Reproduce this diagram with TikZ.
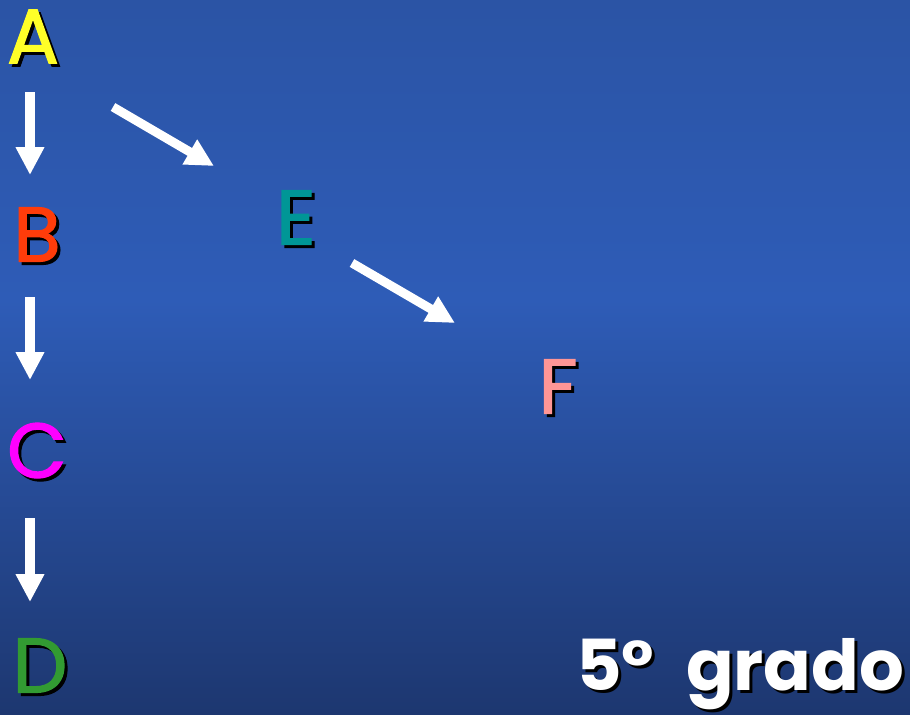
\documentclass[tikz,border=0pt]{standalone}
\usepackage{fontspec}
\setmainfont{Poppins}
\newfontfamily\lettfont[FakeBold=1.6]{Poppins}
\usetikzlibrary{arrows.meta}
\definecolor{bgtop}{RGB}{43,84,165}
\definecolor{bgmid}{RGB}{46,92,183}
\definecolor{bgbot}{RGB}{29,55,112}
\definecolor{lettA}{RGB}{255,255,40}
\definecolor{lettB}{RGB}{255,60,10}
\definecolor{lettC}{RGB}{255,0,255}
\definecolor{lettD}{RGB}{50,155,50}
\definecolor{lettE}{RGB}{0,150,150}
\definecolor{lettF}{RGB}{255,150,150}
\pgfdeclareverticalshading{slidebg}{100bp}{color(0bp)=(bgbot); color(25bp)=(bgbot);
  color(54bp)=(bgmid); color(75bp)=(bgtop); color(100bp)=(bgtop)}
% letter with a black drop shadow
\newcommand{\shtxt}[2]{\rlap{\hspace{0.3mm}\raisebox{-0.3mm}{\color{black}#2}}{\color{#1}#2}}

\begin{document}
\begin{tikzpicture}[x=0.01cm, y=-0.01cm, >={Triangle[length=2.8mm,width=2.7mm]},
    letter/.style={font=\lettfont\fontsize{22}{22}\selectfont, inner sep=0pt},
    arr/.style={->, white, line width=0.9mm}]
    \useasboundingbox (0,0) rectangle (910,714);
    \shade[shading=slidebg] (0,0) rectangle (910,714);
    % letters
    \node[letter] (A) at (33,38) {\shtxt{lettA}{A}};
    \node[letter] (B) at (37,236) {\shtxt{lettB}{B}};
    \node[letter] (C) at (37,452) {\shtxt{lettC}{C}};
    \node[letter] (D) at (40,667) {\shtxt{lettD}{D}};
    \node[letter] (E) at (296,219) {\shtxt{lettE}{E}};
    \node[letter] (F) at (558,388) {\shtxt{lettF}{F}};
    % arrows
    \foreach \a/\b/\sa/\sb in {A/B/{-3,54}/{-7,-61}, B/C/{-7,61}/{-7,-72}, C/D/{-7,66}/{-10,-65}}
        \draw[arr] ([shift={(\sa)}]\a.center) -- ([shift={(\sb)}]\b.center);
    \draw[arr] ([shift={(80,69)}]A.center) -- ([shift={(-82,-53)}]E.center);
    \draw[arr] ([shift={(56,44)}]E.center) -- ([shift={(-103,-65)}]F.center);
    \node[letter, font=\fontsize{20}{20}\bfseries\selectfont, anchor=base east] (grado)
        at (905,690) {\shtxt{white}{5°\hspace{0.45em}grado}};
\end{tikzpicture}
\end{document}
